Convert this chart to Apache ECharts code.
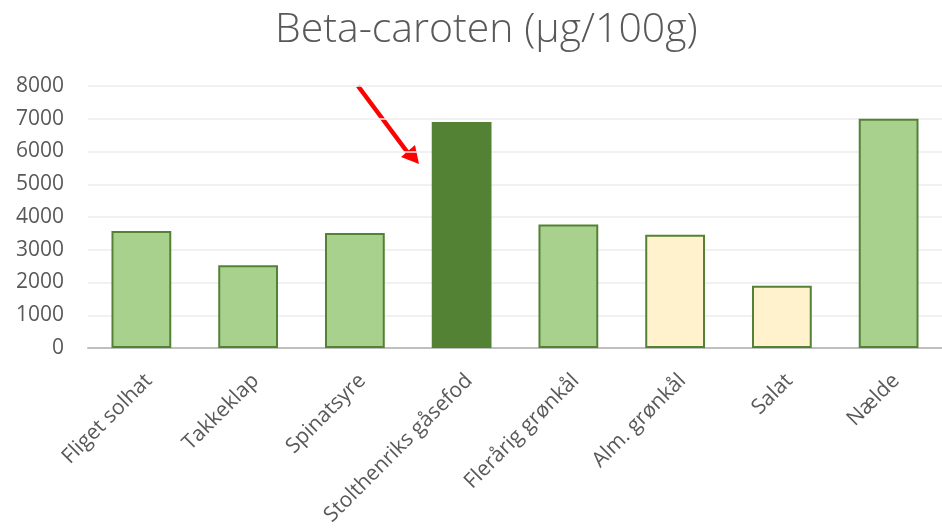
<!DOCTYPE html>
<html>
<head>
<meta charset="utf-8">
<script src="https://cdn.jsdelivr.net/npm/echarts@6/dist/echarts.min.js"></script>
<style>
  html, body { margin: 0; padding: 0; background: #fff; }
  #chart { width: 942px; height: 529px; }
</style>
</head>
<body>
<div id="chart"></div>
<script>
// plant names and beta-caroten content (µg/100g)
const categories = ["Fliget solhat", "Takkeklap", "Spinatsyre", "Stolthenriks gåsefod",
  "Flerårig grønkål", "Alm. grønkål", "Salat", "Nælde"];
const values = [3570, 2530, 3510, 6900, 3770, 3460, 1900, 7000];
// which colour group each bar belongs to
const groups = ["wild", "wild", "wild", "highlight", "wild", "cultivated", "cultivated", "wild"];

const groupStyle = {
  wild: { color: "#A9D18E", borderColor: "#548235" },
  highlight: { color: "#548235", borderColor: "#548235" },
  cultivated: { color: "#FFF2CC", borderColor: "#548235" }
};

const font = "'Open Sans', 'Noto Sans', sans-serif";
const chart = echarts.init(document.getElementById("chart"));

const option = {
  animation: false,
  title: {
    text: "Beta-caroten (µg/100g)",
    left: 270,
    top: 5,
    textStyle: { fontFamily: font, fontSize: 41, fontWeight: 300, color: "#595959" }
  },
  grid: { left: 88, right: 0, top: 86, bottom: 181, containLabel: false },
  xAxis: {
    type: "category",
    data: categories,
    axisLine: { lineStyle: { color: "#BFBFBF", width: 2 } },
    axisTick: { show: false },
    axisLabel: {
      rotate: 45,
      interval: 0,
      margin: 22,
      verticalAlign: "top",
      fontFamily: font,
      fontSize: 21,
      color: "#595959"
    }
  },
  yAxis: {
    type: "value",
    min: 0,
    max: 8000,
    interval: 1000,
    axisLine: { show: false },
    axisTick: { show: false },
    splitLine: { lineStyle: { color: "#EDEDED", width: 1.5 } },
    axisLabel: {
      margin: 24,
      fontFamily: font,
      fontSize: 21,
      color: "#595959",
      formatter: v => String(v)
    }
  },
  series: [{
    type: "bar",
    barWidth: "56%",
    data: values.map((v, i) => ({
      value: v,
      itemStyle: Object.assign({ borderWidth: 2 }, groupStyle[groups[i]])
    }))
  }],
  // red arrow annotation pointing at the highlighted bar
  graphic: [
    {
      type: "line",
      shape: { x1: 358, y1: 86, x2: 408, y2: 153 },
      style: { stroke: "#FF0000", lineWidth: 4.5 }
    },
    {
      type: "polygon",
      shape: { points: [[419, 164], [401, 157], [415, 145]] },
      style: { fill: "#FF0000" }
    }
  ]
};

chart.setOption(option);
</script>
</body>
</html>
